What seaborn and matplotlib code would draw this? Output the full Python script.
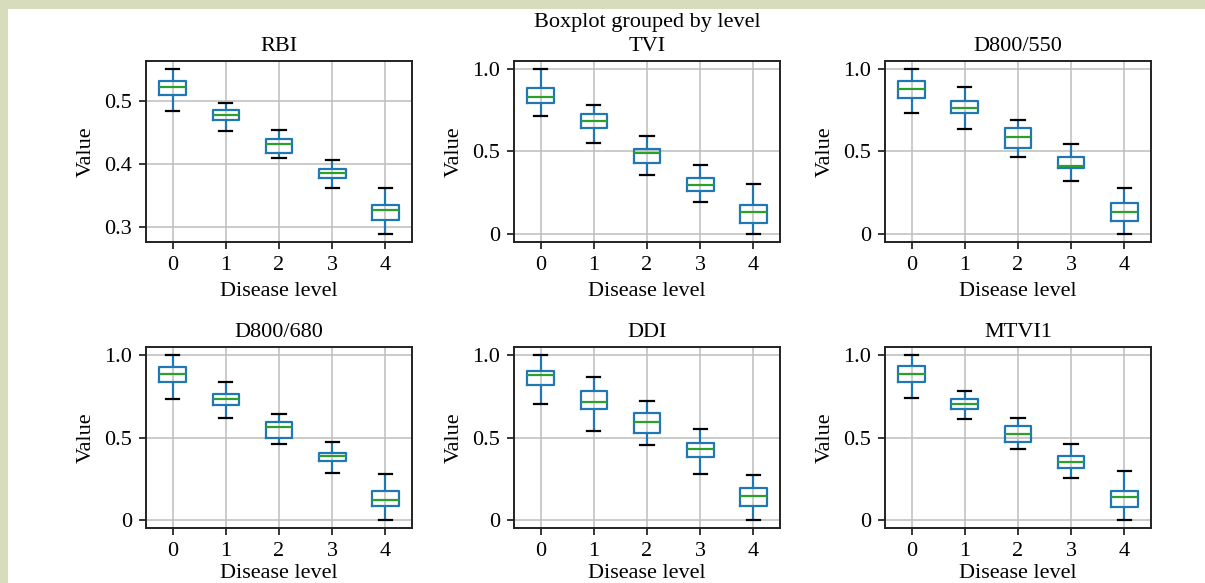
import numpy as np
import pandas as pd
import seaborn as sns
import matplotlib.pyplot as plt
from matplotlib.patches import Rectangle
from matplotlib.ticker import MultipleLocator, FuncFormatter

# disease levels on the x axis
levels = [0, 1, 2, 3, 4]

# five-number summary per level: lower whisker, Q1, median, Q3, upper whisker
rbi = [[0.483, 0.509, 0.521, 0.532, 0.550],
       [0.452, 0.470, 0.477, 0.485, 0.497],
       [0.409, 0.417, 0.431, 0.440, 0.454],
       [0.361, 0.378, 0.385, 0.391, 0.406],
       [0.289, 0.311, 0.327, 0.335, 0.362]]
tvi = [[0.713, 0.794, 0.834, 0.887, 1.000],
       [0.552, 0.642, 0.687, 0.729, 0.784],
       [0.360, 0.432, 0.491, 0.515, 0.596],
       [0.196, 0.257, 0.299, 0.339, 0.420],
       [0.000, 0.067, 0.135, 0.176, 0.301]]
d800_550 = [[0.733, 0.828, 0.881, 0.929, 1.000],
            [0.636, 0.733, 0.764, 0.806, 0.893],
            [0.469, 0.521, 0.590, 0.642, 0.691],
            [0.323, 0.398, 0.410, 0.469, 0.543],
            [0.000, 0.079, 0.133, 0.188, 0.277]]
d800_680 = [[0.737, 0.838, 0.885, 0.927, 1.000],
            [0.616, 0.697, 0.733, 0.766, 0.836],
            [0.459, 0.495, 0.564, 0.594, 0.642],
            [0.287, 0.356, 0.386, 0.406, 0.475],
            [0.000, 0.085, 0.123, 0.176, 0.281]]
ddi = [[0.705, 0.820, 0.881, 0.905, 1.000],
       [0.539, 0.675, 0.717, 0.782, 0.869],
       [0.457, 0.527, 0.592, 0.651, 0.723],
       [0.281, 0.384, 0.428, 0.467, 0.549],
       [0.000, 0.085, 0.143, 0.192, 0.275]]
mtvi1 = [[0.741, 0.838, 0.885, 0.933, 1.000],
         [0.612, 0.673, 0.705, 0.737, 0.780],
         [0.432, 0.472, 0.524, 0.568, 0.616],
         [0.255, 0.313, 0.349, 0.388, 0.459],
         [0.000, 0.075, 0.137, 0.172, 0.297]]

panels = [("RBI", rbi, 0.1), ("TVI", tvi, 0.5), ("D800/550", d800_550, 0.5),
          ("D800/680", d800_680, 0.5), ("DDI", ddi, 0.5), ("MTVI1", mtvi1, 0.5)]

BLUE = "#1f77b4"
GREEN = "#2ca02c"

plt.rcParams["font.family"] = ["Liberation Serif", "DejaVu Serif"]
plt.rcParams["font.size"] = 16
plt.rcParams["axes.linewidth"] = 1.4
plt.rcParams["xtick.major.size"] = 5
plt.rcParams["ytick.major.size"] = 5
plt.rcParams["xtick.major.width"] = 1.1
plt.rcParams["ytick.major.width"] = 1.1
plt.rcParams["xtick.major.pad"] = 5
plt.rcParams["ytick.major.pad"] = 5
plt.rcParams["xtick.labelsize"] = 16
plt.rcParams["ytick.labelsize"] = 16


def to_frame(stats):
    """Long table: the five summary points for each level."""
    rows = []
    for lev, five in zip(levels, stats):
        for v in five:
            rows.append({"level": lev, "value": v})
    return pd.DataFrame(rows)


fig = plt.figure(figsize=(12.05, 5.83), dpi=100)
fig.patch.set_facecolor("#d6dcbc")
fig.patches.append(Rectangle((8 / 1205, 0), 1, 1 - 9 / 583, transform=fig.transFigure,
                             facecolor="white", edgecolor="none", zorder=-10))

lefts = [0.1212, 0.4266, 0.7344]
bottoms = [0.5849, 0.0943]
w, h = 0.2207, 0.3105

fmt = FuncFormatter(lambda v, p: "0" if abs(v) < 1e-9 else f"{v:.1f}")

for i, (name, stats, step) in enumerate(panels):
    ax = fig.add_axes([lefts[i % 3], bottoms[i // 3], w, h])
    sns.boxplot(data=to_frame(stats), x="level", y="value", ax=ax,
                width=0.5, whis=(0, 100), fill=False, showfliers=False,
                linewidth=1.6, color=BLUE,
                boxprops=dict(color=BLUE),
                whiskerprops=dict(color=BLUE),
                capprops=dict(color="black"),
                medianprops=dict(color=GREEN))
    ax.set_xlim(-0.5, 4.5)
    ax.grid(True, color="#bdbdbd", linewidth=1.1)
    ax.set_axisbelow(True)
    ax.yaxis.set_major_locator(MultipleLocator(step))
    ax.yaxis.set_major_formatter(fmt)
    for s in ax.spines.values():
        s.set_color("#222222")
    ax.set_title(name, fontsize=16, pad=7)
    # bottom row sits against the lower edge, keep its label inside
    ax.set_xlabel("Disease level", fontsize=16, labelpad=5 if i < 3 else 2)
    ax.set_ylabel("Value", fontsize=16, labelpad=6)

fig.text(0.537, 0.962, "Boxplot grouped by level", ha="center", va="center", fontsize=16)

fig.savefig("out.png", dpi=100)
